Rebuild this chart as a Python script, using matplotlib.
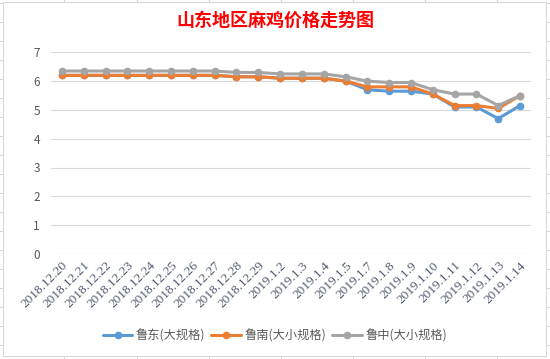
import numpy as np
import matplotlib
matplotlib.use('Agg')
import matplotlib.pyplot as plt
from matplotlib.lines import Line2D
from matplotlib.patches import Rectangle

plt.rcParams['font.family'] = ['Noto Sans CJK SC', 'DejaVu Sans']

# --- Data ---
dates = ['2018.12.20', '2018.12.21', '2018.12.22', '2018.12.23', '2018.12.24',
         '2018.12.25', '2018.12.26', '2018.12.27', '2018.12.28', '2018.12.29',
         '2019.1.2', '2019.1.3', '2019.1.4', '2019.1.5', '2019.1.7', '2019.1.8',
         '2019.1.9', '2019.1.10', '2019.1.11', '2019.1.12', '2019.1.13', '2019.1.14']
ludong = [6.2, 6.2, 6.2, 6.2, 6.2, 6.2, 6.2, 6.2, 6.15, 6.15,
          6.1, 6.1, 6.1, 6.0, 5.7, 5.65, 5.65, 5.55, 5.1, 5.1, 4.7, 5.15]
lunan = [6.2, 6.2, 6.2, 6.2, 6.2, 6.2, 6.2, 6.2, 6.15, 6.15,
         6.1, 6.1, 6.1, 6.0, 5.8, 5.8, 5.8, 5.55, 5.15, 5.15, 5.05, 5.5]
luzhong = [6.35, 6.35, 6.35, 6.35, 6.35, 6.35, 6.35, 6.35, 6.3, 6.3,
           6.25, 6.25, 6.25, 6.15, 6.0, 5.95, 5.95, 5.7, 5.55, 5.55, 5.15, 5.5]
series = [('鲁东(大规格)', ludong, '#5B9BD5'),
          ('鲁南(大小规格)', lunan, '#ED7D31'),
          ('鲁中(大小规格)', luzhong, '#A5A5A5')]

W, H = 550, 359
fig = plt.figure(figsize=(W / 100, H / 100), dpi=100, facecolor='white')

# spreadsheet cell grid behind the chart
sheet = '#D4D4D4'
for x in [64, 137, 209, 281, 353, 425, 497]:
    fig.add_artist(Line2D([x / W, x / W], [0, 1], color=sheet, lw=0.7, zorder=0))
for y in range(3, H, 19):
    fig.add_artist(Line2D([0, 1], [1 - y / H, 1 - y / H], color=sheet, lw=0.7, zorder=0))

# chart area
fig.add_artist(Rectangle((3 / W, 1 - 356 / H), 543 / W, 354 / H, transform=fig.transFigure,
                         facecolor='white', edgecolor='#D9D9D9', lw=0.8, zorder=1))

ax = fig.add_axes([51 / W, 1 - 253.9 / H, 480 / W, 201.6 / H], zorder=2)
ax.set_facecolor('none')
x = np.arange(len(dates))
for name, vals, c in series:
    ax.plot(x, vals, color=c, lw=2.2, marker='o', markersize=4.5, label=name,
            solid_capstyle='round')

ax.set_xlim(-0.5, len(dates) - 0.5)
ax.set_ylim(0, 7)
ax.set_yticks(range(0, 8))
ax.yaxis.grid(True, color='#D9D9D9', lw=0.8)
ax.set_axisbelow(True)
for s in ax.spines.values():
    s.set_visible(False)
ax.tick_params(length=0, colors='#595959', labelsize=8.5)
ax.tick_params(axis='y', pad=8)
ax.set_xticks(x)
ax.set_xticklabels(dates, rotation=45, ha='right', rotation_mode='anchor',
                   family=['Liberation Serif', 'DejaVu Sans'], fontsize=9.5, color='#505A70')
ax.tick_params(axis='x', pad=4)

fig.text(0.5, 1 - 20 / H, '山东地区麻鸡价格走势图', ha='center', va='center',
         color='#FF0000', fontsize=13, fontweight='bold', zorder=3)

fig.legend(loc='center', bbox_to_anchor=(0.5, 1 - 336 / H), ncol=3, frameon=False,
           fontsize=8.8, handlelength=2.4, handletextpad=0.3, columnspacing=0.5,
           labelcolor='#595959')

fig.savefig('out.png', dpi=100, facecolor='white')
